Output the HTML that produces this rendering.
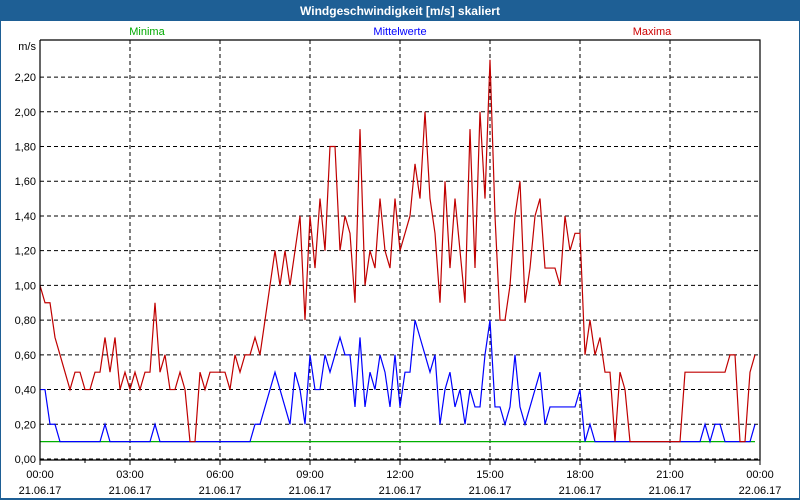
<!DOCTYPE html>
<html><head><meta charset="utf-8"><style>
body{margin:0;width:800px;height:500px;overflow:hidden;background:#fff;font-family:"Liberation Sans",sans-serif}
</style></head><body>
<svg width="800" height="500" style="display:block">
<rect x="0" y="0" width="800" height="500" fill="#1e5f95"/>
<rect x="1" y="21" width="798" height="477" fill="#fff"/>
<text x="400" y="15" text-anchor="middle" font-size="12" font-weight="bold" fill="#fff">Windgeschwindigkeit [m/s] skaliert</text>
<text x="147" y="35" text-anchor="middle" font-size="11" fill="#00aa00">Minima</text>
<text x="400" y="35" text-anchor="middle" font-size="11" fill="#0000ff">Mittelwerte</text>
<text x="652" y="35" text-anchor="middle" font-size="11" fill="#cc0000">Maxima</text>
<text x="36" y="50" text-anchor="end" font-size="11" fill="#000">m/s</text>
<g id="grid"></g><g id="series"></g><g id="axes"></g>
</svg>
<script>
const yTicks=[0,0.2,0.4,0.6,0.8,1.0,1.2,1.4,1.6,1.8,2.0,2.2];
const xTickTimes=["00:00","03:00","06:00","09:00","12:00","15:00","18:00","21:00","00:00"];
const xTickDates=["21.06.17","21.06.17","21.06.17","21.06.17","21.06.17","21.06.17","21.06.17","21.06.17","22.06.17"];
const maxima=[1.0,0.9,0.9,0.7,0.6,0.5,0.4,0.5,0.5,0.4,0.4,0.5,0.5,0.7,0.5,0.7,0.4,0.5,0.4,0.5,0.4,0.5,0.5,0.9,0.5,0.6,0.4,0.4,0.5,0.4,0.1,0.1,0.5,0.4,0.5,0.5,0.5,0.5,0.4,0.6,0.5,0.6,0.6,0.7,0.6,0.8,
1.0,1.2,1.0,1.2,1.0,1.2,1.4,0.8,1.4,1.1,1.5,1.2,1.8,1.8,1.2,1.4,1.3,0.9,1.9,1.0,1.2,1.1,1.5,1.2,1.1,1.5,1.2,1.3,1.4,1.7,1.5,2.0,1.5,1.3,0.9,1.6,1.1,1.5,1.2,0.9,1.9,1.1,2.0,1.5,2.3,1.4,0.8,0.8,1.0,1.4,1.6,0.9,
1.1,1.4,1.5,1.1,1.1,1.1,1.0,1.4,1.2,1.3,1.3,0.6,0.8,0.6,0.7,0.5,0.5,0.1,0.5,0.4,0.1,0.1,0.1,0.1,0.1,0.1,0.1,0.1,0.1,0.1,0.1,0.5,0.5,0.5,0.5,0.5,0.5,0.5,0.5,0.5,0.6,0.6,0.1,0.1,0.5,0.6];
const mittel=[0.4,0.4,0.2,0.2,0.1,0.1,0.1,0.1,0.1,0.1,0.1,0.1,0.1,0.2,0.1,0.1,0.1,0.1,0.1,0.1,0.1,0.1,0.1,0.2,0.1,0.1,0.1,0.1,0.1,0.1,0.1,0.1,0.1,0.1,0.1,0.1,0.1,0.1,0.1,0.1,0.1,0.1,0.1,0.2,0.2,0.3,
0.4,0.5,0.4,0.3,0.2,0.5,0.4,0.2,0.6,0.4,0.4,0.6,0.5,0.6,0.7,0.6,0.6,0.3,0.7,0.3,0.5,0.4,0.6,0.5,0.3,0.6,0.3,0.5,0.5,0.8,0.7,0.6,0.5,0.6,0.2,0.4,0.5,0.3,0.4,0.2,0.4,0.3,0.3,0.6,0.8,0.3,0.3,0.2,0.3,0.6,0.3,0.2,
0.3,0.4,0.5,0.2,0.3,0.3,0.3,0.3,0.3,0.3,0.4,0.1,0.2,0.1,0.1,0.1,0.1,0.1,0.1,0.1,0.1,0.1,0.1,0.1,0.1,0.1,0.1,0.1,0.1,0.1,0.1,0.1,0.1,0.1,0.1,0.2,0.1,0.2,0.2,0.1,0.1,0.1,0.1,0.1,0.1,0.2];
const minima=new Array(maxima.length).fill(0.1);
const X0=40,X1=760,Y0=459,PPU=173.6,SLOTS=144;
const xs=i=>X0+i*(X1-X0)/SLOTS;
const ys=v=>Y0-v*PPU;
const NS="http://www.w3.org/2000/svg";
function mk(tag,attrs,parent){const e=document.createElementNS(NS,tag);for(const k in attrs)e.setAttribute(k,attrs[k]);parent.appendChild(e);return e;}
const grid=document.getElementById('grid'),series=document.getElementById('series'),axes=document.getElementById('axes');
yTicks.forEach((v,i)=>{
 const l=mk('line',{x1:X0,x2:X1,y1:ys(v),y2:ys(v),stroke:'#000','stroke-dasharray':'4,3','stroke-width':1},grid);
 
 
 const t=mk('text',{x:36,y:ys(v)+4,'text-anchor':'end','font-size':11,fill:'#000'},axes);
 t.textContent=v.toFixed(2).replace('.',',');
 
 
});
xTickTimes.forEach((s,i)=>{
 const x=X0+i*(X1-X0)/(xTickTimes.length-1);
 if(i>0&&i<xTickTimes.length-1){
  const l=mk('line',{x1:x,x2:x,y1:40,y2:460,stroke:'#000','stroke-dasharray':'4,3'},grid);
  
  
 }
 const tk=mk('line',{x1:x,x2:x,y1:460,y2:465,stroke:'#000'},axes);
 
 
 if(i<xTickTimes.length-1){
  const m=mk('line',{x1:x+45,x2:x+45,y1:460,y2:463,stroke:'#000'},axes);
  
  
 }
 const t1=mk('text',{x:x,y:478,'text-anchor':'middle','font-size':11,fill:'#000'},axes);
 t1.textContent=s;
 
 
 const t2=mk('text',{x:x,y:494,'text-anchor':'middle','font-size':11,fill:'#000'},axes);
 t2.textContent=xTickDates[i];
 
 
});
const ax=mk('path',{d:`M${X0},40 V460 H${X1} V40 H${X0}`,fill:'none',stroke:'#000','stroke-width':1.2},axes);


function line(arr,color,name){
 const p=mk('polyline',{points:arr.map((v,i)=>xs(i)+','+ys(v)).join(' '),fill:'none',stroke:color,'stroke-width':1.2},series);
 
 
}
line(minima,'#00b000','minima-line');
line(mittel,'#0000ff','mittelwerte-line');
line(maxima,'#c00000','maxima-line');
</script>
</body></html>
